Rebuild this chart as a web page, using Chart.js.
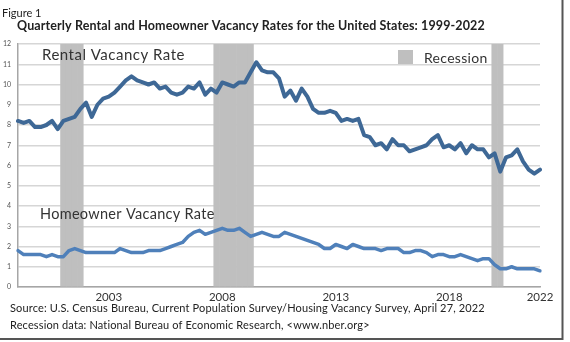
<!DOCTYPE html>
<html>
<head>
<meta charset="utf-8">
<script src="https://cdn.jsdelivr.net/npm/chart.js@4.4.1/dist/chart.umd.min.js"></script>
<style>
  html, body { margin: 0; padding: 0; background: #fff; }
  #wrap { position: relative; width: 570px; height: 342px; }
</style>
</head>
<body>
<div id="wrap"><canvas id="c" width="570" height="342"></canvas></div>
<script>
// ---- data (quarterly, 1999 Q1 .. 2022 Q1) ----
const years = [];
for (let y = 1999; y <= 2022; y++) years.push(y);
const quarters = [];
years.forEach(y => { for (let q = 1; q <= 4; q++) if (!(y === 2022 && q > 1)) quarters.push(y + ' Q' + q); });

const rentalRate = [
  8.2, 8.1, 8.2, 7.9,   // 1999
  7.9, 8.0, 8.2, 7.8,   // 2000
  8.2, 8.3, 8.4, 8.8,   // 2001
  9.1, 8.4, 9.0, 9.3,   // 2002
  9.4, 9.6, 9.9, 10.2,  // 2003
  10.4, 10.2, 10.1, 10.0, // 2004
  10.1, 9.8, 9.9, 9.6,  // 2005
  9.5, 9.6, 9.9, 9.8,   // 2006
  10.1, 9.5, 9.8, 9.6,  // 2007
  10.1, 10.0, 9.9, 10.1, // 2008
  10.1, 10.6, 11.1, 10.7, // 2009
  10.6, 10.6, 10.3, 9.4, // 2010
  9.7, 9.2, 9.8, 9.4,   // 2011
  8.8, 8.6, 8.6, 8.7,   // 2012
  8.6, 8.2, 8.3, 8.2,   // 2013
  8.3, 7.5, 7.4, 7.0,   // 2014
  7.1, 6.8, 7.3, 7.0,   // 2015
  7.0, 6.7, 6.8, 6.9,   // 2016
  7.0, 7.3, 7.5, 6.9,   // 2017
  7.0, 6.8, 7.1, 6.6,   // 2018
  7.0, 6.8, 6.8, 6.4,   // 2019
  6.6, 5.7, 6.4, 6.5,   // 2020
  6.8, 6.2, 5.8, 5.6,   // 2021
  5.8                   // 2022
];

const homeownerRate = [
  1.8, 1.6, 1.6, 1.6,   // 1999
  1.6, 1.5, 1.6, 1.5,   // 2000
  1.5, 1.8, 1.9, 1.8,   // 2001
  1.7, 1.7, 1.7, 1.7,   // 2002
  1.7, 1.7, 1.9, 1.8,   // 2003
  1.7, 1.7, 1.7, 1.8,   // 2004
  1.8, 1.8, 1.9, 2.0,   // 2005
  2.1, 2.2, 2.5, 2.7,   // 2006
  2.8, 2.6, 2.7, 2.8,   // 2007
  2.9, 2.8, 2.8, 2.9,   // 2008
  2.7, 2.5, 2.6, 2.7,   // 2009
  2.6, 2.5, 2.5, 2.7,   // 2010
  2.6, 2.5, 2.4, 2.3,   // 2011
  2.2, 2.1, 1.9, 1.9,   // 2012
  2.1, 2.0, 1.9, 2.1,   // 2013
  2.0, 1.9, 1.9, 1.9,   // 2014
  1.8, 1.9, 1.9, 1.9,   // 2015
  1.7, 1.7, 1.8, 1.8,   // 2016
  1.7, 1.5, 1.6, 1.6,   // 2017
  1.5, 1.5, 1.6, 1.5,   // 2018
  1.4, 1.3, 1.4, 1.4,   // 2019
  1.1, 0.9, 0.9, 1.0,   // 2020
  0.9, 0.9, 0.9, 0.9,   // 2021
  0.8                   // 2022
];

// Recession quarters (NBER)
const recessionQuarters = [
  '2001 Q1', '2001 Q2', '2001 Q3', '2001 Q4',
  '2007 Q4', '2008 Q1', '2008 Q2', '2008 Q3', '2008 Q4', '2009 Q1', '2009 Q2',
  '2020 Q1', '2020 Q2'
];
const recessionTop = 12;
const recessionBand = quarters.map(q => recessionQuarters.includes(q) ? recessionTop : null);

const tickYears = ['2003', '2008', '2013', '2018', '2022'];
const yTicks = [0, 1, 2, 3, 4, 5, 6, 7, 8, 9, 10, 11, 12];

const FONT = 'Lato, "Open Sans", sans-serif';

const decor = {
  id: 'decor',
  afterDraw(chart) {
    const ctx = chart.ctx;
    const a = chart.chartArea;
    const ys = chart.scales.y;
    ctx.save();
    ctx.fillStyle = '#222';
    ctx.textBaseline = 'middle';
    ctx.textAlign = 'left';
    ctx.font = '11px ' + FONT;
    ctx.fillText('Figure 1', 2, 13);
    ctx.font = 'bold 12.5px ' + FONT;
    ctx.letterSpacing = '0.12px';
    ctx.fillText('Quarterly Rental and Homeowner Vacancy Rates for the United States: 1999-2022', 17, 26);

    ctx.font = '11px ' + FONT;
    ctx.letterSpacing = '0.14px';
    ctx.fillStyle = '#222';
    ctx.fillText('Source: U.S. Census Bureau, Current Population Survey/Housing Vacancy Survey, April 27, 2022', 10, 308);
    ctx.fillText('Recession data: National Bureau of Economic Research, <www.nber.org>', 10, 325);

    // series labels
    ctx.fillStyle = '#333';
    ctx.font = '15px ' + FONT;
    ctx.letterSpacing = '0.5px';
    ctx.fillText('Rental Vacancy Rate', a.left + 24, ys.getPixelForValue(11.45));
    ctx.font = '14.5px ' + FONT;
    ctx.letterSpacing = '0.3px';
    ctx.fillText('Homeowner Vacancy Rate', a.left + 22, ys.getPixelForValue(3.6));

    // recession legend
    ctx.fillStyle = '#bfbfbf';
    ctx.fillRect(a.left + 380, a.top + 6, 15, 14);
    ctx.fillStyle = '#333';
    ctx.font = '14px ' + FONT;
    ctx.letterSpacing = '0.3px';
    ctx.fillText('Recession', a.left + 406, a.top + 14);
    ctx.letterSpacing = '0px';

    // frame
    ctx.strokeStyle = '#555';
    ctx.lineWidth = 2;
    ctx.beginPath();
    ctx.moveTo(562.5, 0);
    ctx.lineTo(562.5, 339);
    ctx.lineTo(0, 339);
    ctx.stroke();
    ctx.restore();
  }
};

const bg = {
  id: 'bg',
  beforeDraw(chart) {
    const ctx = chart.ctx;
    ctx.save();
    ctx.fillStyle = '#fff';
    ctx.fillRect(0, 0, chart.width, chart.height);
    ctx.restore();
  }
};

new Chart(document.getElementById('c'), {
  type: 'line',
  data: {
    labels: quarters,
    datasets: [
      {
        type: 'line',
        label: 'Rental Vacancy Rate',
        data: rentalRate,
        borderColor: '#3e6896',
        borderWidth: 4,
        pointRadius: 0,
        tension: 0,
        borderJoinStyle: 'round',
        borderCapStyle: 'round',
        order: 1
      },
      {
        type: 'line',
        label: 'Homeowner Vacancy Rate',
        data: homeownerRate,
        borderColor: '#4f80ba',
        borderWidth: 3.5,
        pointRadius: 0,
        tension: 0,
        borderJoinStyle: 'round',
        borderCapStyle: 'round',
        order: 2
      },
      {
        type: 'bar',
        label: 'Recession',
        data: recessionBand,
        backgroundColor: '#bfbfbf',
        borderWidth: 0,
        barPercentage: 1,
        categoryPercentage: 1,
        order: 3
      }
    ]
  },
  options: {
    responsive: false,
    animation: false,
    layout: { padding: { top: 44, left: 0, right: 30, bottom: 35 } },
    plugins: {
      legend: { display: false },
      tooltip: { enabled: false },
      title: { display: false }
    },
    scales: {
      x: {
        type: 'category',
        offset: false,
        grid: { display: false, drawTicks: false },
        border: { display: true, color: '#a6a6a6', width: 1.5 },
        ticks: {
          autoSkip: false,
          maxRotation: 0,
          minRotation: 0,
          padding: 3,
          color: '#333',
          font: { family: FONT, size: 11.5 },
          callback: function (val) {
            const lab = this.getLabelForValue(val);
            const [yr, q] = lab.split(' ');
            return (q === 'Q1' && tickYears.includes(yr)) ? yr : null;
          }
        },
        afterFit(s) { s.height = 20; }
      },
      y: {
        min: 0,
        max: 12,
        afterBuildTicks(s) { s.ticks = yTicks.map(v => ({ value: v })); },
        grid: { color: '#d6d6d6', lineWidth: 1.5, drawTicks: false },
        border: { display: true, color: '#a6a6a6', width: 1.5 },
        ticks: {
          padding: 7,
          color: '#555',
          font: { family: FONT, size: 7 }
        },
        afterFit(s) { s.width = 18; }
      }
    }
  },
  plugins: [bg, decor]
});
</script>
</body>
</html>
